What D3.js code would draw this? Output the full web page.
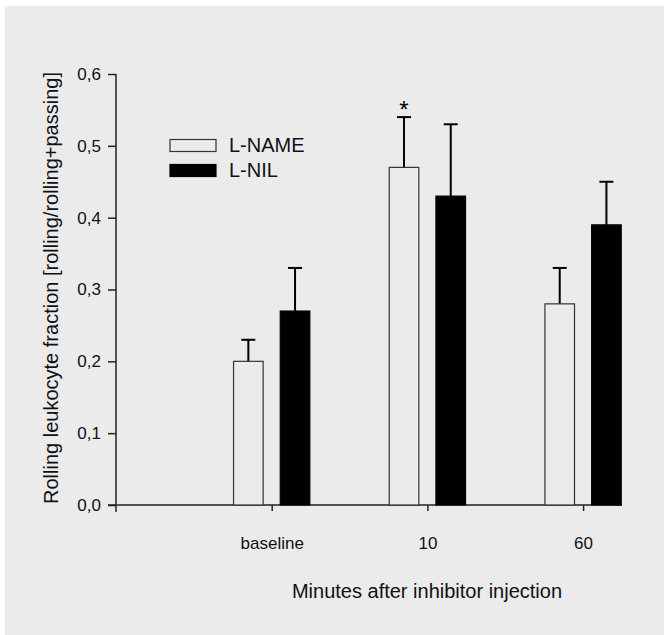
<!DOCTYPE html>
<html>
<head>
<meta charset="utf-8">
<script src="https://cdn.jsdelivr.net/npm/d3@7"></script>
<style>
  body { margin: 0; background: #fff; }
  svg { display: block; font-family: "Liberation Sans", Arial, Helvetica, sans-serif; }
</style>
</head>
<body>
<svg width="664" height="635"></svg>
<script>
// chart values
var categories = ["baseline", "10", "60"];
var lname = [0.20, 0.47, 0.28];
var lnameErr = [0.23, 0.54, 0.33];
var lnil = [0.27, 0.43, 0.39];
var lnilErr = [0.33, 0.53, 0.45];
var yTicks = [0, 0.1, 0.2, 0.3, 0.4, 0.5, 0.6];
var significant = [false, true, false];

var svg = d3.select("svg");

// grey panel
svg.append("rect").attr("x", 5).attr("y", 6)
  .attr("width", 659).attr("height", 629).attr("fill", "#ebebeb");

var x = d3.scaleLinear().domain([0, 3.25]).range([116, 622]);
var y = d3.scaleLinear().domain([0, 0.6]).range([505, 74]);

var comma = d3.formatLocale({decimal: ",", thousands: ".", grouping: [3], currency: ["", ""]});

// y axis
var yAxis = svg.append("g").attr("transform", "translate(116,0)")
  .call(d3.axisLeft(y).tickValues(yTicks).tickSize(8).tickPadding(7).tickFormat(comma.format(".1f")))
  .attr("font-family", null);
yAxis.select(".domain").remove();
yAxis.append("line").attr("x1", 0).attr("x2", 0).attr("y1", y(0.6)).attr("y2", 512)
  .attr("stroke", "#222").attr("stroke-width", 1.5);
yAxis.selectAll(".tick line").attr("stroke", "#222").attr("stroke-width", 1.5);
yAxis.selectAll(".tick text").attr("font-size", 17).attr("fill", "#111");

// x axis
var xAxis = svg.append("g").attr("transform", "translate(0,505)")
  .call(d3.axisBottom(x).tickValues([1, 2, 3]).tickSize(6).tickPadding(26)
    .tickFormat(function(d){ return categories[d - 1]; }))
  .attr("font-family", null);
xAxis.select(".domain").remove();
xAxis.append("line").attr("x1", 108).attr("x2", x(3.25)).attr("y1", 0).attr("y2", 0)
  .attr("stroke", "#222").attr("stroke-width", 1.5);
xAxis.selectAll(".tick line").attr("stroke", "#222").attr("stroke-width", 1.5);
xAxis.selectAll(".tick text").attr("font-size", 17).attr("fill", "#111");

// axis titles
svg.append("text").attr("x", 427).attr("y", 598).attr("text-anchor", "middle")
  .attr("font-size", 20).attr("fill", "#111").text("Minutes after inhibitor injection");
svg.append("text").attr("transform", "translate(58,288) rotate(-90)").attr("text-anchor", "middle")
  .attr("font-size", 20).attr("fill", "#111").text("Rolling leukocyte fraction [rolling/rolling+passing]");

var series = [
  {vals: lname, errs: lnameErr, lo: -0.245, hi: -0.055, fill: "#ebebeb", stroke: "#333"},
  {vals: lnil, errs: lnilErr, lo: 0.055, hi: 0.245, fill: "#000", stroke: "#000"}
];

series.forEach(function(s){
  var g = svg.append("g");
  // error bars first so the bar covers the stem
  g.selectAll("line.stem").data(s.vals).enter().append("line")
    .attr("x1", function(d, i){ return x(i + 1 + (s.lo + s.hi) / 2); })
    .attr("x2", function(d, i){ return x(i + 1 + (s.lo + s.hi) / 2); })
    .attr("y1", function(d){ return y(d); })
    .attr("y2", function(d, i){ return y(s.errs[i]); })
    .attr("stroke", "#000").attr("stroke-width", 2);
  g.selectAll("line.cap").data(s.errs).enter().append("line")
    .attr("x1", function(d, i){ return x(i + 1 + (s.lo + s.hi) / 2) - 7; })
    .attr("x2", function(d, i){ return x(i + 1 + (s.lo + s.hi) / 2) + 7; })
    .attr("y1", function(d){ return y(d); })
    .attr("y2", function(d){ return y(d); })
    .attr("stroke", "#000").attr("stroke-width", 2);
  g.selectAll("rect").data(s.vals).enter().append("rect")
    .attr("x", function(d, i){ return x(i + 1 + s.lo); })
    .attr("width", function(d, i){ return x(i + 1 + s.hi) - x(i + 1 + s.lo); })
    .attr("y", function(d){ return y(d); })
    .attr("height", function(d){ return y(0) - y(d); })
    .attr("fill", s.fill).attr("stroke", s.stroke).attr("stroke-width", 1.2);
});

// significance marks over the L-NAME bars
var stars = significant.map(function(d, i){ return {on: d, i: i}; })
  .filter(function(d){ return d.on; });
svg.selectAll("text.star").data(stars).enter()
  .append("text").attr("class", "star")
  .attr("x", function(d){ return x(d.i + 1 - 0.15); })
  .attr("y", function(d){ return y(lnameErr[d.i]) + 1; })
  .attr("text-anchor", "middle").attr("font-size", 24).text("*");

// legend
var legend = [{name: "L-NAME", fill: "#ebebeb", stroke: "#333"}, {name: "L-NIL", fill: "#000", stroke: "#000"}];
var lg = svg.append("g").selectAll("g").data(legend).enter().append("g")
  .attr("transform", function(d, i){ return "translate(170," + (139.5 + i * 25) + ")"; });
lg.append("rect").attr("width", 46).attr("height", 12)
  .attr("fill", function(d){ return d.fill; }).attr("stroke", function(d){ return d.stroke; }).attr("stroke-width", 1.2);
lg.append("text").attr("x", 59).attr("y", 12).attr("font-size", 20).attr("fill", "#111")
  .text(function(d){ return d.name; });
</script>
</body>
</html>
